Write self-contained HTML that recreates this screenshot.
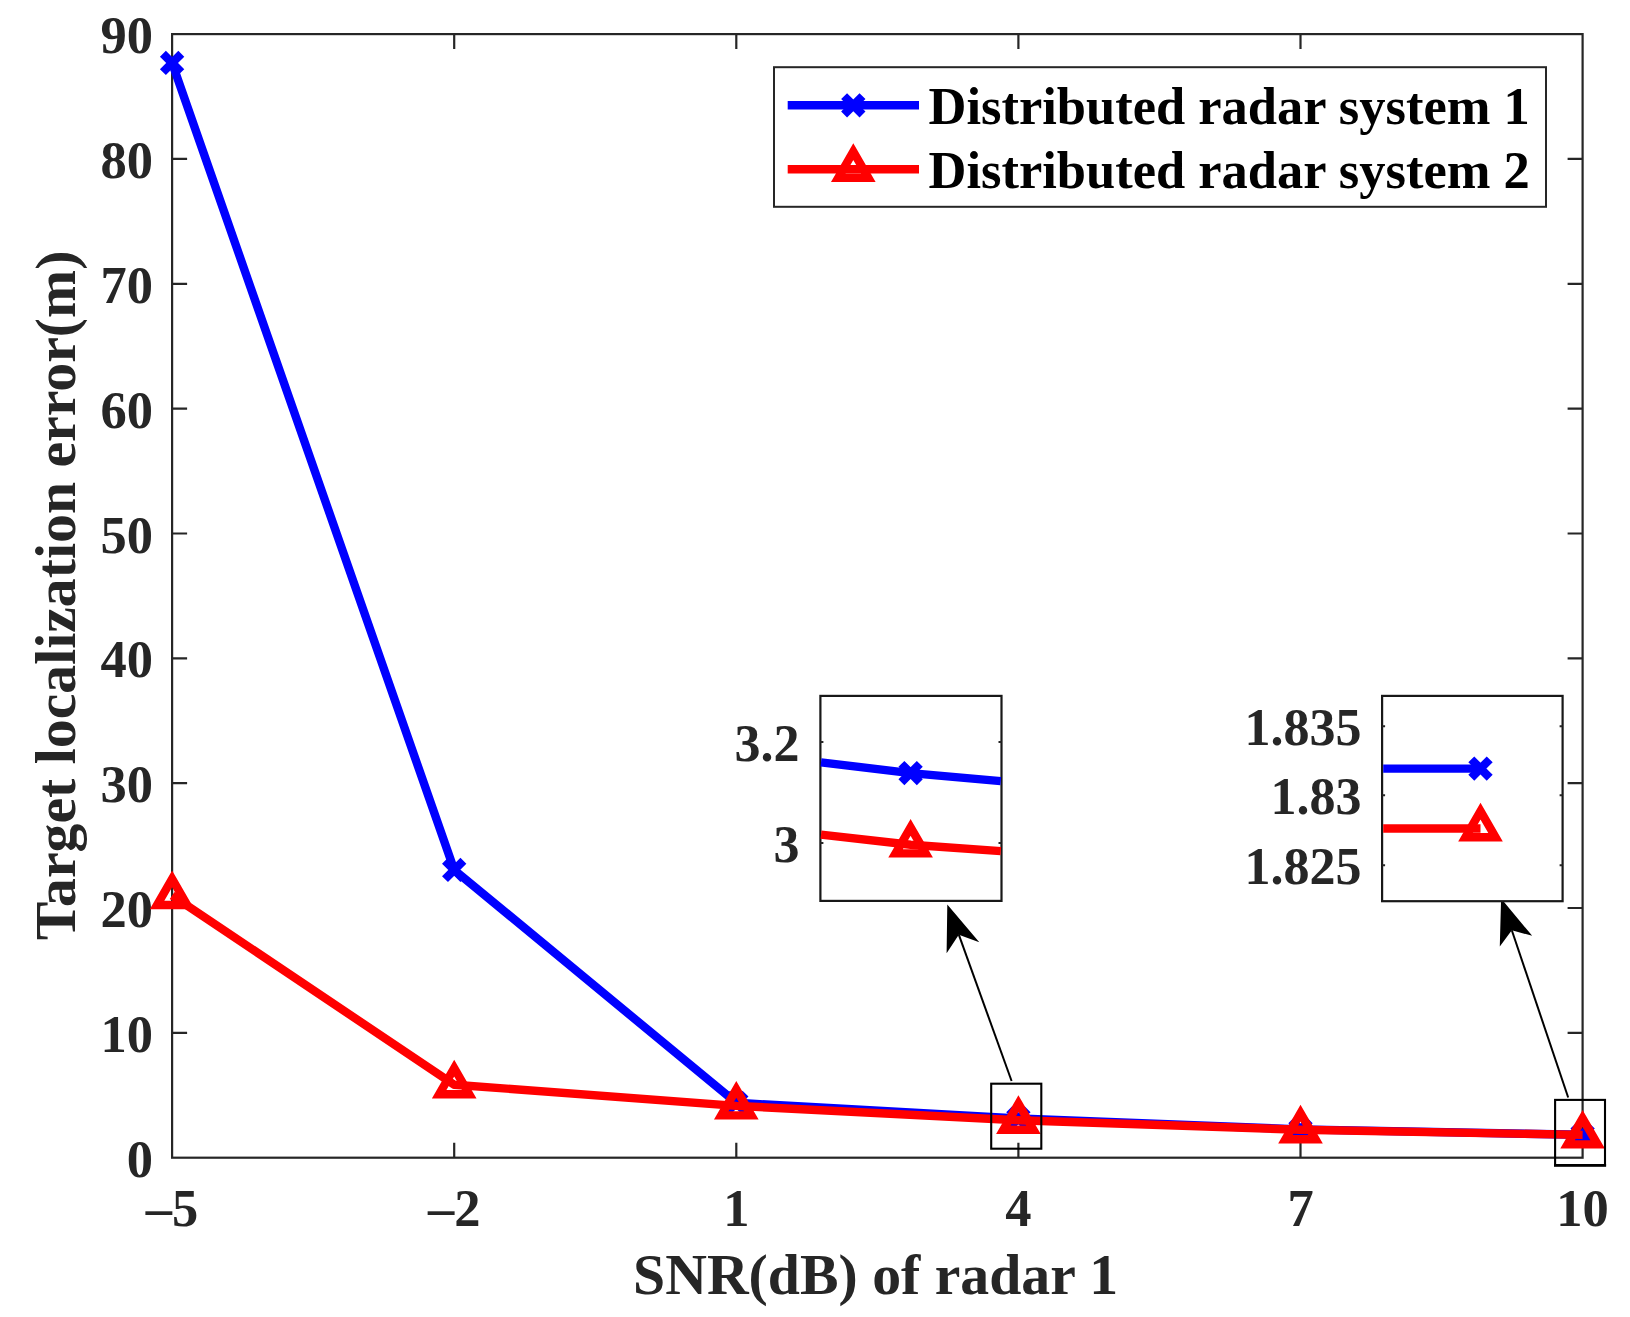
<!DOCTYPE html>
<html lang="en"><head><meta charset="utf-8"><title>Target localization error vs SNR</title>
<style>html,body{margin:0;padding:0;background:#fff}svg{display:block}text{font-family:"Liberation Serif","Times New Roman",serif;font-weight:bold}</style></head><body>
<svg width="1630" height="1317" viewBox="0 0 1630 1317">
<rect width="1630" height="1317" fill="#fff"/>
<defs>
<g id="mx"><path d="M-9.2 -9.2L9.2 9.2M-9.2 9.2L9.2 -9.2" stroke="#00f" stroke-width="8.4" fill="none"/></g>
<g id="mt"><path d="M0 -17.37L15.04 8.68L-15.04 8.68Z" stroke="#f00" stroke-width="8.4" fill="none" stroke-linejoin="miter" stroke-miterlimit="10"/></g>
</defs>
<g stroke="#262626" stroke-width="2.2" fill="none">
<rect x="172.1" y="34.1" width="1410.5" height="1123.6"/>
<path d="M454.2 1157.7v-15M454.2 34.1v15M736.3 1157.7v-15M736.3 34.1v15M1018.4 1157.7v-15M1018.4 34.1v15M1300.5 1157.7v-15M1300.5 34.1v15M172.1 1032.9h15M1582.6 1032.9h-15M172.1 908.0h15M1582.6 908.0h-15M172.1 783.2h15M1582.6 783.2h-15M172.1 658.3h15M1582.6 658.3h-15M172.1 533.5h15M1582.6 533.5h-15M172.1 408.6h15M1582.6 408.6h-15M172.1 283.8h15M1582.6 283.8h-15M172.1 158.9h15M1582.6 158.9h-15"/>
</g>
<g fill="#262626" font-size="52.5">
<text x="153" y="1176.7" text-anchor="end">0</text>
<text x="153" y="1051.9" text-anchor="end">10</text>
<text x="153" y="927.0" text-anchor="end">20</text>
<text x="153" y="802.2" text-anchor="end">30</text>
<text x="153" y="677.3" text-anchor="end">40</text>
<text x="153" y="552.5" text-anchor="end">50</text>
<text x="153" y="427.6" text-anchor="end">60</text>
<text x="153" y="302.8" text-anchor="end">70</text>
<text x="153" y="177.9" text-anchor="end">80</text>
<text x="153" y="53.1" text-anchor="end">90</text>
<text x="172.1" y="1226" text-anchor="middle">–5</text>
<text x="454.2" y="1226" text-anchor="middle">–2</text>
<text x="736.3" y="1226" text-anchor="middle">1</text>
<text x="1018.4" y="1226" text-anchor="middle">4</text>
<text x="1300.5" y="1226" text-anchor="middle">7</text>
<text x="1582.6" y="1226" text-anchor="middle">10</text>
</g>
<g fill="#262626" font-size="57.75">
<text x="875.6" y="1293.9" text-anchor="middle">SNR(dB) of radar 1</text>
<text transform="translate(75 595.4) rotate(-90)" text-anchor="middle">Target localization error(m)</text>
</g>
<polyline points="172.1,62.9 454.2,869.9 736.3,1102.8 1018.4,1118.5 1300.5,1129.4 1582.6,1134.8" stroke="#00f" stroke-width="8.4" fill="none" stroke-linejoin="round"/>
<use href="#mx" x="172.1" y="62.9"/>
<use href="#mx" x="454.2" y="869.9"/>
<use href="#mx" x="736.3" y="1102.8"/>
<use href="#mx" x="1018.4" y="1118.5"/>
<use href="#mx" x="1300.5" y="1129.4"/>
<use href="#mx" x="1582.6" y="1134.8"/>
<polyline points="172.1,895.5 454.2,1084.7 736.3,1105.9 1018.4,1120.2 1300.5,1129.7 1582.6,1134.9" stroke="#f00" stroke-width="8.4" fill="none" stroke-linejoin="round"/>
<use href="#mt" x="172.1" y="896.3"/>
<use href="#mt" x="454.2" y="1085.5"/>
<use href="#mt" x="736.3" y="1106.7"/>
<use href="#mt" x="1018.4" y="1121.0"/>
<use href="#mt" x="1300.5" y="1130.5"/>
<use href="#mt" x="1582.6" y="1135.7"/>
<rect x="774" y="67.2" width="772" height="139.6" fill="#fff" stroke="#262626" stroke-width="2"/>
<path d="M787.7 105.3H919" stroke="#00f" stroke-width="8.4"/><use href="#mx" x="853.3" y="105.3"/>
<path d="M787.7 169.3H919" stroke="#f00" stroke-width="8.4"/><use href="#mt" x="853.3" y="169.0"/>
<g fill="#000" font-size="52.5"><text x="928.5" y="123.5">Distributed radar system 1</text><text x="928.5" y="187.6">Distributed radar system 2</text></g>
<g stroke="#000" stroke-width="2.1" fill="none">
<rect x="991.2" y="1083.7" width="50.1" height="65"/>
<rect x="1555.1" y="1099.9" width="49.9" height="65.3"/>
<path d="M1554 1165.4H1606.1" stroke-width="2.9"/>
</g>
<g stroke="#000" stroke-width="2" fill="#000">
<path d="M1011.6 1081L958.8 934.7" fill="none"/><path d="M947.3 904.6L946.6 953.2L958.8 934.7L979.3 942.3Z" stroke="none"/>
<path d="M1568.2 1097.5L1511.8 930.3" fill="none"/><path d="M1501.1 898.6L1499.8 946.6L1511.8 930.3L1532.2 935.8Z" stroke="none"/>
</g>
<rect x="820.4" y="695.9" width="181.1" height="205.0" fill="#fff" stroke="#181818" stroke-width="2.2"/>
<path d="M820.4 741.9h3M1001.5 741.9h-3M820.4 843h3M1001.5 843h-3" stroke="#262626" stroke-width="2" fill="none"/>
<g fill="#262626" font-size="52">
<text x="799.4" y="760.9" text-anchor="end">3.2</text>
<text x="799.4" y="862.0" text-anchor="end">3</text>
</g>
<path d="M821 762.4L910.6 773.1L1000.8 781.1" stroke="#00f" stroke-width="8.4" fill="none"/><use href="#mx" x="910.6" y="773.1"/>
<path d="M821 834.7L910.6 844.7L1000.8 851.1" stroke="#f00" stroke-width="8.4" fill="none"/><use href="#mt" x="910.6" y="844.7"/>
<rect x="1382.1" y="695.9" width="180.5" height="205.3" fill="#fff" stroke="#181818" stroke-width="2.2"/>
<path d="M1382.1 726.3h3M1562.6 726.3h-3M1382.1 795.3h3M1562.6 795.3h-3M1382.1 865.2h3M1562.6 865.2h-3" stroke="#262626" stroke-width="2" fill="none"/>
<g fill="#262626" font-size="52">
<text x="1361.3999999999999" y="745.3" text-anchor="end">1.835</text>
<text x="1361.3999999999999" y="814.3" text-anchor="end">1.83</text>
<text x="1361.3999999999999" y="884.2" text-anchor="end">1.825</text>
</g>
<path d="M1383.2 768.6L1480.5 768.6L1480.5 768.6" stroke="#00f" stroke-width="8.4" fill="none"/><use href="#mx" x="1480.5" y="768.6"/>
<path d="M1383.2 828.5L1480.5 828.5L1480.5 828.5" stroke="#f00" stroke-width="8.4" fill="none"/><use href="#mt" x="1480.5" y="828.5"/>
</svg></body></html>
